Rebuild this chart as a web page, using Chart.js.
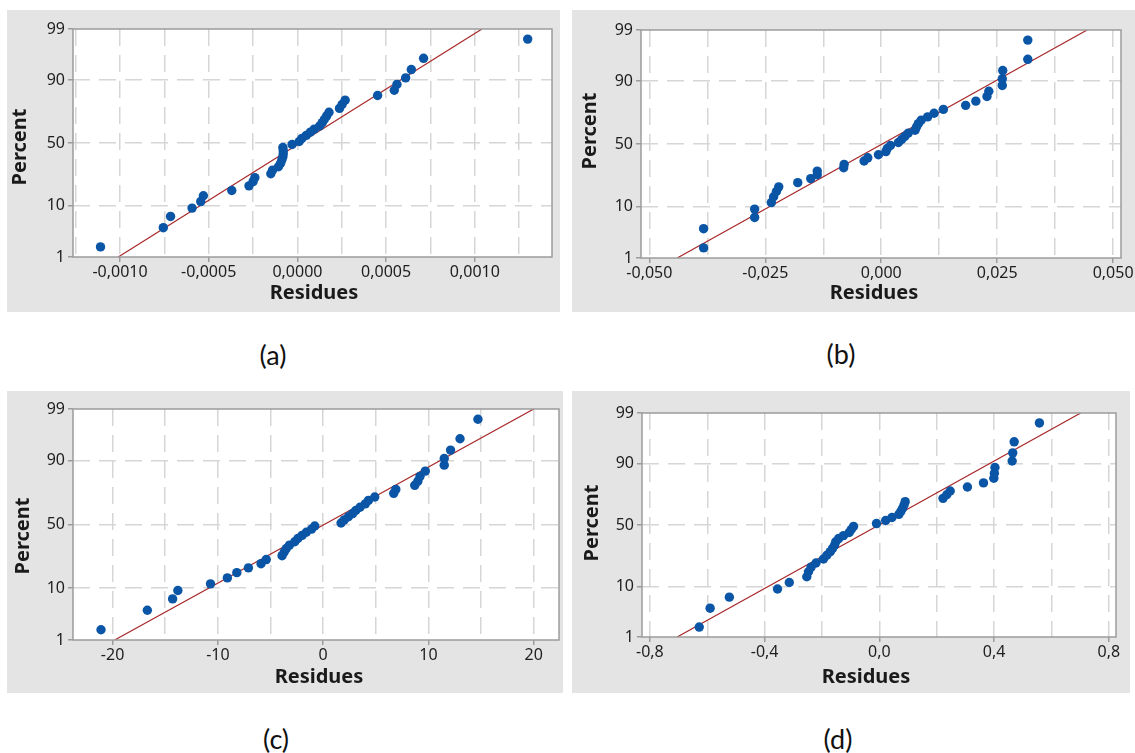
<!DOCTYPE html>
<html>
<head>
<meta charset="utf-8">
<script src="https://cdn.jsdelivr.net/npm/chart.js@4.4.0/dist/chart.umd.min.js"></script>
<style>
html,body{margin:0;padding:0;background:#fff;}
#wrap{position:relative;width:1135px;height:753px;overflow:hidden;background:#fff;}
#wrap canvas{position:absolute;background:#e4e4e4;}
.cap{position:absolute;font-family:Lato,"Open Sans",sans-serif;font-size:27px;color:#111;transform:translate(-50%,-50%);white-space:nowrap;}
</style>
</head>
<body>
<div id="wrap"></div>
<script>
// ---------------- DATA ----------------
// plotting positions (percent) of the 40 ordered residues
const percentRanks = [1.7,4.2,6.7,9.2,11.6,14.1,16.6,19.1,21.5,24.0,26.5,29.0,31.4,33.9,36.4,38.9,41.3,43.8,46.3,48.8,
                      51.2,53.7,56.2,58.7,61.1,63.6,66.1,68.6,71.0,73.5,76.0,78.5,80.9,83.4,85.9,88.4,90.8,93.3,95.8,98.3];

const residA = [-0.00111,-0.000756,-0.000715,-0.000594,-0.000545,-0.000530,-0.000370,-0.000273,-0.000250,-0.000240,
                -0.000150,-0.000140,-0.000107,-0.000095,-0.000088,-0.000082,-0.000080,-0.000080,-0.000082,-0.000030,
                0.000010,0.000025,0.000050,0.000072,0.000095,0.000125,0.000140,0.000152,0.000165,0.000178,
                0.000237,0.000252,0.000269,0.000452,0.000546,0.000561,0.000610,0.000642,0.000711,0.001298];

const residB = [-0.0383,-0.0383,-0.0273,-0.0273,-0.0237,-0.0232,-0.0226,-0.0221,-0.0180,-0.0152,
                -0.0138,-0.0138,-0.0081,-0.0080,-0.0037,-0.0029,-0.0006,0.0010,0.0013,0.0020,
                0.0037,0.0044,0.0051,0.0058,0.0073,0.0076,0.0080,0.0086,0.0100,0.0114,
                0.0134,0.0182,0.0204,0.0228,0.0232,0.0261,0.0261,0.0262,0.0316,0.0316];

const residC = [-21.1,-16.7,-14.3,-13.8,-10.7,-9.1,-8.2,-7.1,-5.9,-5.4,
                -3.9,-3.7,-3.5,-3.2,-2.7,-2.4,-2.0,-1.6,-1.1,-0.8,
                1.7,2.0,2.4,2.8,3.1,3.5,4.0,4.3,4.9,6.7,
                6.9,8.7,9.0,9.2,9.7,11.5,11.5,12.1,13.0,14.7];

const residD = [-0.628,-0.590,-0.523,-0.355,-0.314,-0.253,-0.247,-0.238,-0.221,-0.195,
                -0.183,-0.171,-0.163,-0.156,-0.152,-0.142,-0.125,-0.105,-0.098,-0.090,
                -0.010,0.022,0.044,0.068,0.075,0.081,0.086,0.090,0.222,0.235,
                0.247,0.307,0.363,0.399,0.401,0.403,0.463,0.465,0.470,0.558];

// fitted normal lines: [residue at 1 %, residue at 99 %]
const fitA = [-0.00101, 0.00104];
const fitB = [-0.0440, 0.0444];
const fitC = [-19.8, 20.0];
const fitD = [-0.705, 0.702];
const fitPercents = [1, 99];

// y axis (normal probability) ticks
const yTickPercents = [1, 10, 50, 90, 99];
const yTickLabels = ['1', '10', '50', '90', '99'];

// x axis grid positions and labels
const xGridA = [-0.00125,-0.001,-0.00075,-0.0005,-0.00025,0,0.00025,0.0005,0.00075,0.001,0.00125];
const xLabA  = ['','-0,0010','','-0,0005','','0,0000','','0,0005','','0,0010',''];
const xGridB = [-0.05,-0.0375,-0.025,-0.0125,0,0.0125,0.025,0.0375,0.05];
const xLabB  = ['-0,050','','-0,025','','0,000','','0,025','','0,050'];
const xGridC = [-20,-15,-10,-5,0,5,10,15,20];
const xLabC  = ['-20','','-10','','0','','10','','20'];
const xGridD = [-0.8,-0.6,-0.4,-0.2,0,0.2,0.4,0.6,0.8];
const xLabD  = ['-0,8','','-0,4','','0,0','','0,4','','0,8'];

const xRangeA = [-0.001265, 0.001435];
const xRangeB = [-0.0518, 0.0517];
const xRangeC = [-23.76, 22.40];
const xRangeD = [-0.8275, 0.825];

const captions = ['(a)', '(b)', '(c)', '(d)'];
const xTitle = 'Residues';
const yTitle = 'Percent';

// ---------------- HELPERS ----------------
function probit(p) {
  const a=[-3.969683028665376e+01,2.209460984245205e+02,-2.759285104469687e+02,1.383577518672690e+02,-3.066479806614716e+01,2.506628277459239e+00];
  const b=[-5.447609879822406e+01,1.615858368580409e+02,-1.556989798598866e+02,6.680131188771972e+01,-1.328068155288572e+01];
  const c=[-7.784894002430293e-03,-3.223964580411365e-01,-2.400758277161838e+00,-2.549732539343734e+00,4.374664141464968e+00,2.938163982698783e+00];
  const d=[7.784695709041462e-03,3.224671290700398e-01,2.445134137142996e+00,3.754408661907416e+00];
  const pl = 0.02425;
  let q, r;
  if (p < pl) { q = Math.sqrt(-2*Math.log(p)); return (((((c[0]*q+c[1])*q+c[2])*q+c[3])*q+c[4])*q+c[5])/((((d[0]*q+d[1])*q+d[2])*q+d[3])*q+1); }
  if (p <= 1-pl) { q = p-0.5; r = q*q; return (((((a[0]*r+a[1])*r+a[2])*r+a[3])*r+a[4])*r+a[5])*q/(((((b[0]*r+b[1])*r+b[2])*r+b[3])*r+b[4])*r+1); }
  q = Math.sqrt(-2*Math.log(1-p));
  return -(((((c[0]*q+c[1])*q+c[2])*q+c[3])*q+c[4])*q+c[5])/((((d[0]*q+d[1])*q+d[2])*q+d[3])*q+1);
}
const pz = pct => probit(pct/100);

// ---------------- LAYOUT ----------------
const panels = [
  {id:'A', resid:residA, fit:fitA, grid:xGridA, lab:xLabA, range:xRangeA,
   box:{x:7,y:10,w:553,h:302}, plot:{l:73,t:29,r:552,b:257},
   yt:{x:20,y:147}, xt:{x:314,y:293}, cap:{x:273,y:354}},
  {id:'B', resid:residB, fit:fitB, grid:xGridB, lab:xLabB, range:xRangeB,
   box:{x:572,y:10,w:563,h:302}, plot:{l:641,t:30,r:1121,b:258},
   yt:{x:590,y:131}, xt:{x:874,y:293}, cap:{x:841,y:353}},
  {id:'C', resid:residC, fit:fitC, grid:xGridC, lab:xLabC, range:xRangeC,
   box:{x:7,y:391,w:556,h:302}, plot:{l:73,t:409,r:559,b:640},
   yt:{x:23,y:536}, xt:{x:319,y:677}, cap:{x:276,y:738}},
  {id:'D', resid:residD, fit:fitD, grid:xGridD, lab:xLabD, range:xRangeD,
   box:{x:572,y:391,w:558,h:302}, plot:{l:642,t:413,r:1116,b:637},
   yt:{x:592,y:523}, xt:{x:866,y:677}, cap:{x:838,y:738}}
];

const TICK_FONT = {family:'"Noto Sans", "Open Sans", sans-serif', size:16};
const TITLE_FONT = 'bold 20px "Noto Sans", "Open Sans", sans-serif';
const yTickValues = yTickPercents.map(pz);
const yMin = pz(1), yMax = pz(99);

const wrap = document.getElementById('wrap');

panels.forEach((P, k) => {
  const cv = document.createElement('canvas');
  cv.width = P.box.w; cv.height = P.box.h;
  cv.style.left = P.box.x + 'px'; cv.style.top = P.box.y + 'px';
  cv.style.width = P.box.w + 'px'; cv.style.height = P.box.h + 'px';
  wrap.appendChild(cv);

  const cap = document.createElement('div');
  cap.className = 'cap'; cap.textContent = captions[k];
  cap.style.left = P.cap.x + 'px'; cap.style.top = P.cap.y + 'px';
  wrap.appendChild(cap);

  const pts = P.resid.map((v, i) => ({x: v, y: pz(percentRanks[i])}));
  const fitPts = P.fit.map((v, i) => ({x: v, y: pz(fitPercents[i])}));

  const decor = {
    id: 'decor' + P.id,
    beforeDraw(chart) {
      const {ctx, chartArea: a} = chart;
      ctx.save();
      ctx.fillStyle = '#ffffff';
      ctx.fillRect(a.left, a.top, a.right - a.left, a.bottom - a.top);
      ctx.restore();
    },
    afterDraw(chart) {
      const {ctx, chartArea: a} = chart;
      ctx.save();
      ctx.strokeStyle = '#9c9c9c';
      ctx.lineWidth = 1.5;
      ctx.strokeRect(a.left, a.top, a.right - a.left, a.bottom - a.top);
      ctx.fillStyle = '#1a1a1a';
      ctx.font = TITLE_FONT;
      ctx.textAlign = 'center'; ctx.textBaseline = 'middle';
      ctx.fillText(xTitle, P.xt.x - P.box.x, P.xt.y - P.box.y);
      ctx.translate(P.yt.x - P.box.x, P.yt.y - P.box.y);
      ctx.rotate(-Math.PI/2);
      ctx.fillText(yTitle, 0, 0);
      ctx.restore();
    }
  };

  new Chart(cv, {
    type: 'scatter',
    data: {
      datasets: [
        {data: fitPts, showLine: true, borderColor: '#a8282a', borderWidth: 1.2,
         pointRadius: 0, pointHoverRadius: 0, order: 2},
        {data: pts, showLine: false, backgroundColor: '#0a55a5', borderColor: '#0a55a5',
         borderWidth: 0, pointRadius: 4.7, pointHoverRadius: 4.7, order: 1}
      ]
    },
    options: {
      responsive: false, animation: false, devicePixelRatio: 1,
      events: [],
      layout: {
        autoPadding: false,
        padding: {left: 0, top: P.plot.t - P.box.y, right: P.box.x + P.box.w - P.plot.r, bottom: 0}
      },
      plugins: {legend: {display: false}, tooltip: {enabled: false}, title: {display: false}},
      scales: {
        x: {
          type: 'linear', position: 'bottom', min: P.range[0], max: P.range[1],
          afterBuildTicks: s => { s.ticks = P.grid.map(v => ({value: v})); },
          afterFit: s => { s.height = P.box.y + P.box.h - P.plot.b; s.paddingLeft = 0; s.paddingRight = 0; },
          ticks: {autoSkip: false, maxRotation: 0, minRotation: 0, padding: 1, color: '#1e1e1e', font: TICK_FONT,
                  callback: (v, i) => P.lab[i]},
          grid: {color: '#d6d6d6', lineWidth: 1.5, tickLength: 5, drawTicks: true,
                 tickColor: c => (P.lab[c.index] ? '#9c9c9c' : 'rgba(0,0,0,0)'), tickWidth: 1.5},
          border: {display: false, dash: [17, 9]}
        },
        y: {
          type: 'linear', position: 'left', min: yMin, max: yMax,
          afterBuildTicks: s => { s.ticks = yTickValues.map(v => ({value: v})); },
          afterFit: s => { s.width = P.plot.l - P.box.x; s.paddingTop = 0; s.paddingBottom = 0; },
          ticks: {autoSkip: false, padding: 3, color: '#1e1e1e', font: TICK_FONT,
                  callback: (v, i) => yTickLabels[i]},
          grid: {color: c => (c.index === 0 || c.index === yTickValues.length - 1) ? 'rgba(0,0,0,0)' : '#d6d6d6',
                 lineWidth: 1.5, tickLength: 5, tickColor: '#9c9c9c', tickWidth: 1.5},
          border: {display: false, dash: [17, 9]}
        }
      }
    },
    plugins: [decor]
  });
});
</script>
</body>
</html>
